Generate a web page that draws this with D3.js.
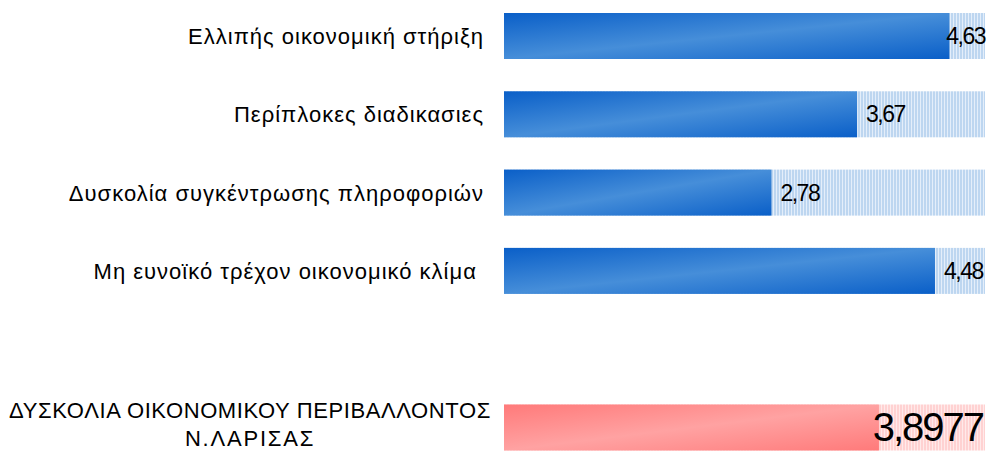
<!DOCTYPE html>
<html>
<head>
<meta charset="utf-8">
<script src="https://cdn.jsdelivr.net/npm/d3@7"></script>
<style>
  body { margin: 0; background: #fff; }
  text { font-family: "Liberation Sans", Arial, sans-serif; white-space: pre; }
</style>
</head>
<body>
<div id="chart"></div>
<script>
// Data
const categories = [
  'Ελλιπής οικονομική στήριξη',
  'Περίπλοκες διαδικασιες',
  'Δυσκολία συγκέντρωσης πληροφοριών',
  'Μη ευνοϊκό τρέχον οικονομικό κλίμα '
]
const values = [4.63, 3.67, 2.78, 4.48]
const valueLabels = ['4,63', '3,67', '2,78', '4,48']

const totalLabel = ['ΔΥΣΚΟΛΙΑ ΟΙΚΟΝΟΜΙΚΟΥ ΠΕΡΙΒΑΛΛΟΝΤΟΣ', 'Ν.ΛΑΡΙΣΑΣ']
const totalValue = 3.8977
const totalValueLabel = '3,8977'
const maxValue = 5

// Dimensions
const dimensions = { width: 990, height: 454 }

const svg = d3.select('#chart')
  .append('svg')
  .attr('width', dimensions.width)
  .attr('height', dimensions.height)

const defs = svg.append('defs')

function gradient(id, dark, light) {
  const g = defs.append('linearGradient')
    .attr('id', id)
    .attr('x1', 0).attr('y1', 0).attr('x2', 1).attr('y2', 1)
  g.append('stop').attr('offset', 0).attr('stop-color', dark)
  g.append('stop').attr('offset', 0.5).attr('stop-color', light)
  g.append('stop').attr('offset', 1).attr('stop-color', dark)
}
gradient('blueGrad', '#0a5fc8', '#468ed9')
gradient('redGrad', '#ff7a7a', '#ffa2a2')

function stripes(id, base, line) {
  const p = defs.append('pattern')
    .attr('id', id)
    .attr('patternUnits', 'userSpaceOnUse')
    .attr('width', 3).attr('height', 10)
  p.append('rect').attr('width', 3).attr('height', 10).attr('fill', base)
  p.append('rect').attr('x', 2).attr('width', 1).attr('height', 10).attr('fill', line)
}
stripes('blueStripes', '#bdd6f0', '#e4eefa')
stripes('redStripes', '#ffd2d2', '#ffeaea')

// Scales
const xScale = d3.scaleLinear()
  .domain([0, maxValue])
  .range([504, 985])

// 4 categories, one empty slot, then the summary row
const yScale = d3.scaleBand()
  .domain(d3.range(6))
  .range([13, 450.5])
  .paddingInner(0.4125)
  .paddingOuter(0)

const rows = values.map((v, i) => ({ i, v, name: categories[i], label: valueLabels[i] }))

// Background tracks
svg.selectAll('rect.track')
  .data(rows)
  .join('rect')
  .attr('class', 'track')
  .attr('x', xScale(0))
  .attr('y', d => yScale(d.i))
  .attr('width', xScale(maxValue) - xScale(0))
  .attr('height', yScale.bandwidth())
  .attr('fill', 'url(#blueStripes)')

svg.selectAll('rect.bar')
  .data(rows)
  .join('rect')
  .attr('class', 'bar')
  .attr('x', xScale(0))
  .attr('y', d => yScale(d.i))
  .attr('width', d => xScale(d.v) - xScale(0))
  .attr('height', yScale.bandwidth())
  .attr('fill', 'url(#blueGrad)')

// Category labels
svg.selectAll('text.cat')
  .data(rows)
  .join('text')
  .attr('class', 'cat')
  .attr('x', 484)
  .attr('y', d => yScale(d.i) + yScale.bandwidth() / 2 + 8)
  .attr('text-anchor', 'end')
  .attr('font-size', 22)
  .attr('letter-spacing', 1)
  .attr('fill', '#000')
  .text(d => d.name)

// Value labels, kept inside the track
const valueText = svg.selectAll('text.val')
  .data(rows)
  .join('text')
  .attr('class', 'val')
  .attr('y', d => yScale(d.i) + yScale.bandwidth() / 2 + 8)
  .attr('font-size', 23)
  .attr('letter-spacing', -1.5)
  .attr('fill', '#000')
  .text(d => d.label)
valueText.attr('x', function (d) {
  const w = this.getComputedTextLength()
  return Math.min(xScale(d.v) + 9, xScale(maxValue) - w)
})

// Summary row
const ty = yScale(5)
svg.append('rect')
  .attr('x', xScale(0))
  .attr('y', ty)
  .attr('width', xScale(maxValue) - xScale(0))
  .attr('height', yScale.bandwidth())
  .attr('fill', 'url(#redStripes)')

svg.append('rect')
  .attr('x', xScale(0))
  .attr('y', ty)
  .attr('width', xScale(totalValue) - xScale(0))
  .attr('height', yScale.bandwidth())
  .attr('fill', 'url(#redGrad)')

const tv = svg.append('text')
  .attr('y', ty + yScale.bandwidth() / 2 + 14)
  .attr('font-size', 40)
  .attr('letter-spacing', -2)
  .attr('fill', '#000')
  .text(totalValueLabel)
tv.attr('x', xScale(maxValue) - tv.node().getComputedTextLength() - 2)

svg.append('text')
  .attr('x', 250)
  .attr('y', 418)
  .attr('text-anchor', 'middle')
  .attr('font-size', 22)
  .attr('letter-spacing', 0.6)
  .selectAll('tspan')
  .data(totalLabel)
  .join('tspan')
  .attr('x', 250)
  .attr('dy', (d, i) => i === 0 ? 0 : 28)
  .attr('letter-spacing', (d, i) => i === 0 ? 0.6 : 1.8)
  .text(d => d)
</script>
</body>
</html>
